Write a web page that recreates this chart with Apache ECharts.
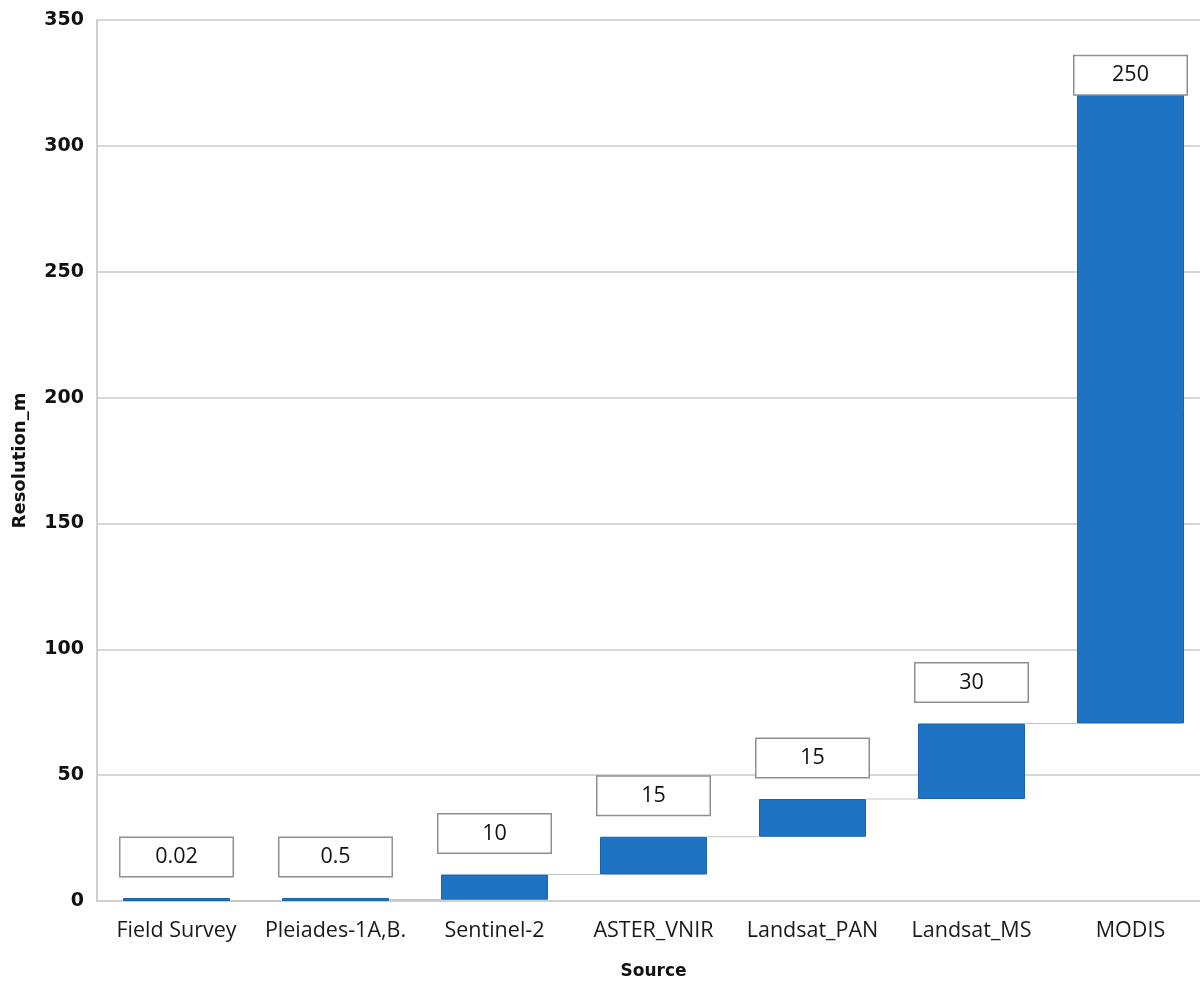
<!DOCTYPE html>
<html>
<head>
<meta charset="utf-8">
<script src="https://cdn.jsdelivr.net/npm/echarts@6/dist/echarts.min.js"></script>
<style>
html,body{margin:0;padding:0;background:#fff;}
#chart{width:1200px;height:984px;}
</style>
</head>
<body>
<div id="chart"></div>
<script>
// Data
const categories = ['Field Survey', 'Pleiades-1A,B.', 'Sentinel-2', 'ASTER_VNIR', 'Landsat_PAN', 'Landsat_MS', 'MODIS'];
const resolutions = [0.02, 0.5, 10, 15, 15, 30, 250];
const valueLabels = ['0.02', '0.5', '10', '15', '15', '30', '250'];
const yTicks = { min: 0, max: 350, interval: 50 };

// Waterfall bases / tops derived from the values
const bases = [];
const tops = [];
let run = 0;
for (let i = 0; i < resolutions.length; i++) {
  bases.push(run);
  run += resolutions[i];
  tops.push(run);
}

const BAR_W = 107;
const chart = echarts.init(document.getElementById('chart'), null, { renderer: 'canvas' });

const valueData = resolutions.map((v, i) => {
  const item = { value: v };
  if (i === resolutions.length - 1) {
    item.label = { distance: 0 };
  }
  return item;
});

const connectorData = tops.slice(0, -1).map((t, i) => [i, t]);

chart.setOption({
  animation: false,
  backgroundColor: '#fff',
  grid: { left: 97, top: 20, width: 1113, bottom: 83, containLabel: false, outerBoundsMode: 'none' },
  xAxis: {
    type: 'category',
    data: categories,
    name: 'Source',
    nameLocation: 'middle',
    nameGap: 62,
    nameTextStyle: { fontFamily: 'DejaVu Sans', fontWeight: 'bold', fontSize: 17, color: '#111' },
    axisLine: { show: true, lineStyle: { color: '#cfcfcf', width: 2 } },
    axisTick: { show: false },
    axisLabel: { interval: 0, hideOverlap: false, fontFamily: 'Open Sans', fontSize: 21.5, color: '#1a1a1a', margin: 19 }
  },
  yAxis: {
    type: 'value',
    min: yTicks.min,
    max: yTicks.max,
    interval: yTicks.interval,
    name: 'Resolution_m',
    nameLocation: 'middle',
    nameGap: 68,
    nameRotate: 90,
    nameTextStyle: { fontFamily: 'DejaVu Sans', fontWeight: 'bold', fontSize: 18, color: '#111' },
    axisLine: { show: true, lineStyle: { color: '#cfcfcf', width: 2 } },
    axisTick: { show: false },
    axisLabel: { fontFamily: 'DejaVu Sans', fontWeight: 'bold', fontSize: 19, color: '#111', margin: 13 },
    splitLine: { show: true, lineStyle: { color: '#d6d6d6', width: 2 } }
  },
  series: [
    {
      name: 'base',
      type: 'bar',
      stack: 'wf',
      barWidth: BAR_W,
      itemStyle: { color: 'transparent' },
      emphasis: { disabled: true },
      data: bases,
      silent: true
    },
    {
      name: 'Resolution',
      type: 'bar',
      stack: 'wf',
      barWidth: BAR_W,
      barMinHeight: 3,
      itemStyle: { color: '#1f73c5', borderColor: '#1b62a9', borderWidth: 1 },
      label: {
        show: true,
        position: 'top',
        distance: 22,
        formatter: p => valueLabels[p.dataIndex],
        width: 112,
        height: 38,
        lineHeight: 38,
        align: 'center',
        backgroundColor: '#fff',
        borderColor: '#8f8f8f',
        borderWidth: 1.5,
        fontFamily: 'Open Sans',
        fontSize: 21.5,
        color: '#111'
      },
      data: valueData,
      z: 3
    },
    {
      name: 'connector',
      type: 'custom',
      silent: true,
      z: 1,
      data: connectorData,
      renderItem: function (params, api) {
        const i = api.value(0);
        const v = api.value(1);
        const p1 = api.coord([i, v]);
        const p2 = api.coord([i + 1, v]);
        return {
          type: 'line',
          shape: { x1: p1[0] + BAR_W / 2, y1: p1[1], x2: p2[0] - BAR_W / 2, y2: p2[1] },
          style: { stroke: '#c4c4c4', lineWidth: 1.2 }
        };
      }
    }
  ]
});
</script>
</body>
</html>
